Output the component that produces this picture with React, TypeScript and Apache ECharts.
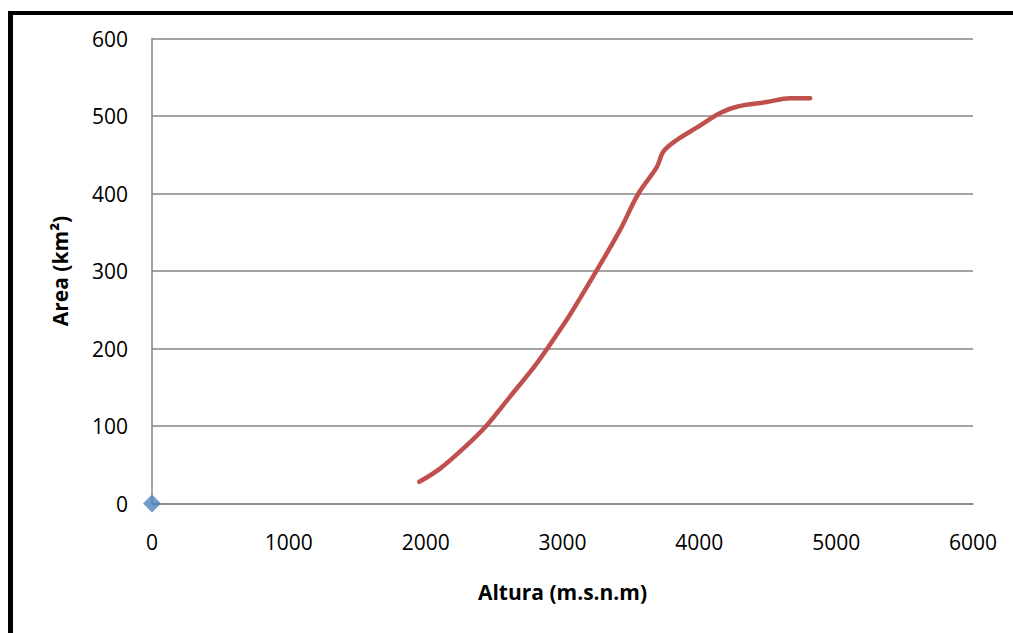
import React, { useEffect, useRef } from "react";
import * as echarts from "echarts";

const altura = [1954, 2105, 2300, 2442, 2617, 2787, 2885, 3031, 3129, 3251, 3421, 3555, 3689, 3737, 3835, 3981, 4152, 4274, 4493, 4664, 4810];
const area = [28, 45, 75, 100, 138, 175, 199, 237, 265, 301, 353, 400, 434, 454, 469, 485, 504, 512, 518, 523, 523];
const originX = [0];
const originY = [0];

const FONT = "'Open Sans', 'Noto Sans', sans-serif";

export default function App() {
  const ref = useRef<HTMLDivElement>(null);
  useEffect(() => {
    if (!ref.current) return;
    const chart = echarts.init(ref.current, undefined, { renderer: "svg" });
    chart.setOption({
      animation: false,
      backgroundColor: "#ffffff",
      grid: { left: 152, right: 40, top: 38.5, bottom: 129.5, containLabel: false },
      xAxis: {
        type: "value",
        min: 0,
        max: 6000,
        interval: 1000,
        name: "Altura (m.s.n.m)",
        nameLocation: "middle",
        nameGap: 78,
        nameTextStyle: { fontFamily: FONT, fontWeight: "bold", fontSize: 21, color: "#000" },
        axisLine: { show: true, lineStyle: { color: "#868686", width: 1.5 } },
        axisTick: { show: false },
        splitLine: { show: false },
        axisLabel: { fontFamily: FONT, fontSize: 21, color: "#000", margin: 28, formatter: (v: number) => String(v) },
      },
      yAxis: {
        type: "value",
        min: 0,
        max: 600,
        interval: 100,
        name: "Area (km²)",
        nameLocation: "middle",
        nameGap: 82,
        nameRotate: 90,
        nameTextStyle: { fontFamily: FONT, fontWeight: "bold", fontSize: 21, color: "#000" },
        axisLine: { show: true, lineStyle: { color: "#868686", width: 1.5 } },
        axisTick: { show: false },
        splitLine: { show: true, lineStyle: { color: "#868686", width: 1.5 } },
        axisLabel: { fontFamily: FONT, fontSize: 21, color: "#000", margin: 24, formatter: (v: number) => String(v) },
      },
      series: [
        {
          type: "line",
          data: altura.map((x, i) => [x, area[i]]),
          smooth: 0.35,
          showSymbol: false,
          symbol: "none",
          lineStyle: { color: "#C0504D", width: 4.5, cap: "round" },
          z: 3,
        },
        {
          type: "scatter",
          data: originX.map((x, i) => [x, originY[i]]),
          symbol: "diamond",
          symbolSize: 18,
          itemStyle: { color: "#4F81BD" },
          z: 4,
        },
      ],
      graphic: [
        { type: "rect", shape: { x: 8, y: 11, width: 5, height: 622 }, style: { fill: "#000" }, z: 10 },
        { type: "rect", shape: { x: 8, y: 11, width: 1005, height: 4 }, style: { fill: "#000" }, z: 10 },
      ],
    });
    return () => chart.dispose();
  }, []);
  return (
    <div
      ref={ref}
      style={{ position: "fixed", left: 0, top: 0, width: 1013, height: 633, background: "#fff" }}
    />
  );
}
